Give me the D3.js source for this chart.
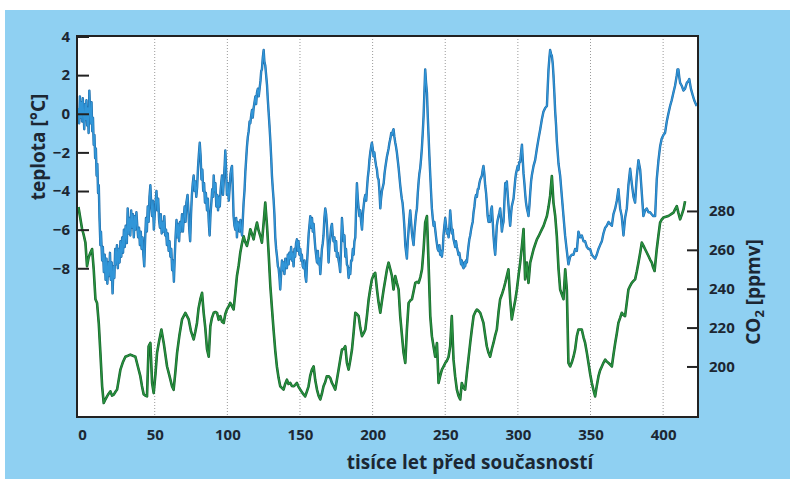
<!DOCTYPE html>
<html>
<head>
<meta charset="utf-8">
<title>Vostok teplota a CO2</title>
<script src="https://d3js.org/d3.v7.min.js"></script>
<style>
  body { margin: 0; background: #fff; }
  text { font-family: "Open Sans", "DejaVu Sans", sans-serif; fill: #1c2733; }
</style>
</head>
<body>
<div id="chart"></div>
<script>
// data: [thousand years before present, value]
var tempTicks = [-8, -6, -4, -2, 0, 2, 4];
var co2Ticks = [200, 220, 240, 260, 280];
var ageTicks = [0, 50, 100, 150, 200, 250, 300, 350, 400];

// temperature anomaly [°C]
var tempRecord = [
  [-2.5,0.3],[-2,-0.5],[-1.5,0.9],[-1,-0.2],[-0.5,0.6],[0,-0.4],[0.5,0.8],[1,0],[1.5,-0.8],[2,0.5],[2.5,-0.3],[3,0.7],[3.5,-0.6],[4,0.3],[4.5,-1],[5,1.2],[5.5,0.2],[6,-0.5],[6.5,0.6],[7,-0.9],[7.5,-0.2],[8,-1.6],[8.5,-1.1],[9,-2.3],[9.5,-1.8],[10,-3.2],[10.5,-2.6],[11,-4.1],[11.5,-3.7],[12,-5.4],
  [12.6,-6.8],[13,-6.1],[13.8,-7.6],[14.3,-6.9],[15,-8.2],[15.6,-7.3],[16.2,-8.6],[16.8,-7.5],[17.4,-8.8],[18,-7.7],[18.6,-8.4],[19.2,-7.2],[19.8,-8.6],[20.4,-7.7],[21,-9.3],[21.6,-7.9],[22.2,-8.5],[22.8,-7],[23.4,-7.8],[24,-6.8],[24.6,-8],[25.2,-7],[25.8,-7.7],[26.4,-6.6],[27,-7.4],[27.6,-6.4],[28.2,-7.2],[28.8,-6],[29.4,-6.9],[30,-5.8],
  [30.8,-6.7],[31.4,-4.9],[32,-6.2],[32.6,-5.4],[33.2,-6.3],[33.8,-5],[34.4,-5.9],[35,-5.2],[35.6,-6.4],[36.2,-5.3],[36.8,-6],[37.4,-5.1],[38,-5.8],[38.6,-6.4],[39.2,-5.9],[39.8,-6.8],[40.4,-6.1],[41,-7],[41.6,-6.4],[42.2,-7.3],[42.8,-7.9],[43.4,-6.5],[44,-5.4],[44.6,-6.1],[45.2,-4.8],[45.8,-5.6],[46.4,-4.3],[47,-3.7],[47.6,-4.7],[48.2,-5.3],
  [48.8,-4.5],[49.4,-6],[50,-5.2],[50.6,-4.6],[51.2,-4],[51.8,-5],[52.4,-4.4],[53,-5.5],[53.6,-5.9],[54.2,-5.2],[54.8,-6.2],[55.4,-5.6],[56,-6.1],[56.6,-5.3],[57.2,-6.3],[57.8,-6],[58.4,-6.8],[59,-6.2],[59.6,-7.1],[60.2,-6.6],[60.8,-7.4],[61.4,-7],[62,-8.1],[62.6,-7.6],[63.2,-8.7],[63.8,-7.4],[64.4,-6.3],[65,-5.5],[65.6,-6.4],[66.2,-5.7],
  [66.8,-6.6],[67.4,-5.6],[68,-6.1],[68.8,-5.2],[69.4,-6.1],[70,-5.4],[70.6,-4.8],[71.2,-5.6],[71.8,-4.6],[72.6,-4.2],[73.2,-5],[73.8,-6],[74.4,-6.6],[75,-5.2],[75.6,-4.2],[76.2,-3.6],[76.8,-3.2],[77.4,-4],[78,-3.5],[78.6,-4.3],[79.2,-3.8],[79.8,-2.8],[80.4,-2.1],[81,-1.5],[81.6,-2.2],[82.2,-3.4],[82.8,-2.9],[83.4,-4],[84,-3.6],[84.6,-4.6],
  [85.2,-4.1],[86,-5],[86.6,-4.4],[87.2,-5.6],[87.8,-6.3],[88.4,-5.2],[89,-4.6],[89.6,-3.9],[90.2,-4.3],[90.6,-3.2],[91.2,-4],[91.8,-3.6],[92.4,-4.8],[93,-4.2],[93.6,-5],[94.2,-4.3],[94.8,-4.8],[95.4,-3.9],[96.3,-3.2],[97,-4.2],[97.6,-3.4],[98.2,-2.6],[98.6,-1.9],[99.2,-3],[99.7,-4.2],[100.3,-3.6],[101,-4.5],[101.6,-3.8],[102.2,-3.1],[102.8,-2.8],
  [103.2,-2.7],[103.8,-4],[104.3,-5.3],[104.9,-5.8],[105.5,-6],[106.1,-5.4],[106.6,-6.4],[107.2,-5.6],[107.8,-5.7],[108.4,-6.1],[109,-5.5],[109.6,-6],[110.1,-6.3],[110.7,-5.4],[111.2,-4.6],[111.8,-4],[112.4,-3],[113,-2.3],[113.5,-1.7],[114.1,-1.2],[114.7,-0.9],[115.3,-0.4],[115.8,-0.5],[116.4,-0.1],[117,0.2],[117.5,-0.2],[118.1,0.3],[118.7,0.6],[119.3,0.9],[119.8,0.5],
  [120.4,1.1],[121,1.3],[121.6,0.9],[122.2,1.3],[122.8,1.7],[123.3,2.2],[123.8,2.3],[124.4,2.9],[125,3.3],[125.5,2.7],[126.1,2.5],[126.7,2],[127.3,1.5],[127.8,0.8],[128.4,0.1],[129,-0.6],[129.6,-1.4],[130.2,-2.3],[130.7,-3.2],[131.3,-3.9],[131.8,-4.4],[132.4,-5.2],[133,-6.4],[133.6,-7],[134.2,-7.4],[134.8,-7.9],[135.3,-8],[135.9,-8.5],[136.4,-9.1],[137,-8.3],
  [137.6,-7.6],[138.2,-8.1],[138.7,-7.7],[139.3,-8.3],[139.9,-7.5],[140.4,-7.9],[141,-8],[141.6,-7.3],[142.2,-7.8],[142.7,-7.2],[143.3,-7.5],[143.9,-6.9],[144.5,-7.6],[145,-7.2],[145.6,-7.9],[146.2,-7],[146.7,-7.4],[147.3,-6.7],[147.9,-6.5],[148.5,-7.1],[149,-6.6],[149.6,-7.3],[150.2,-7],[150.8,-7.6],[151.3,-7.3],[151.9,-7.9],[152.5,-8],[153.1,-7.6],[153.7,-8.4],[154.3,-8.7],
  [154.8,-7.8],[155.4,-7],[156,-6.2],[156.5,-5.8],[157.1,-5.3],[157.7,-5.9],[158.3,-5.4],[158.8,-6.1],[159.4,-5.7],[160,-6.4],[160.5,-6.9],[161.1,-7.3],[161.7,-7.7],[162.3,-7.1],[162.8,-7.8],[163.4,-7.5],[164,-8.3],[164.6,-7.6],[165.1,-7],[165.7,-6.7],[166.2,-6.3],[166.8,-5.4],[167.4,-4.9],[168,-5.2],[168.5,-5.7],[169.1,-6.6],[169.7,-7.7],[170.3,-6.8],[170.9,-6.4],[171.4,-5.9],
  [172,-5.7],[172.6,-6.3],[173.1,-6.6],[173.7,-6.4],[174.3,-7.1],[174.9,-6.6],[175.4,-7.4],[176,-7.2],[176.6,-7.6],[177.1,-7.8],[177.7,-8.2],[178.3,-6.9],[178.9,-5.4],[179.4,-6],[180,-6.6],[180.6,-6.3],[181.2,-7.4],[181.7,-7],[182.3,-7.8],[182.9,-7.9],[183.5,-8.5],[184.1,-8],[184.6,-8.3],[185.2,-7.6],[185.8,-7.6],[186.4,-7],[186.9,-7.3],[187.5,-6.6],[188.1,-6.4],[188.6,-5],
  [189.2,-3.6],[189.8,-4.4],[190.4,-4.9],[190.9,-5.3],[191.5,-5],[192.1,-5.6],[192.7,-6],[193.3,-5.2],[193.8,-4.8],[194.4,-4.4],[195,-4.2],[195.6,-4.5],[196.1,-3.9],[196.7,-3.3],[197.3,-2.9],[197.8,-2.4],[198.4,-2],[199,-1.7],[199.5,-1.5],[200.1,-1.8],[200.7,-2.2],[201.2,-2],[201.8,-2.4],[202.4,-2.7],[203,-2.9],[203.5,-3.3],[204.1,-3.4],[204.7,-4],[205.3,-4.9],[205.8,-4.4],
  [206.4,-4],[207,-3.8],[207.6,-3.6],[208.2,-3.1],[208.7,-2.8],[209.3,-2.5],[209.9,-2.2],[210.5,-2],[211,-1.8],[211.6,-1.5],[212.2,-1.3],[212.8,-1],[213.3,-1.1],[213.9,-0.9],[214.4,-0.8],[215,-1.2],[215.6,-1.5],[216.1,-1.7],[216.7,-2],[217.3,-2.4],[217.9,-2.8],[218.4,-3.2],[219,-3.7],[219.6,-4.1],[220.1,-4.4],[220.6,-4.6],[221.3,-5.2],[222,-6],[222.5,-6.8],[223.1,-7.2],
  [223.6,-7.5],[224.2,-6.6],[224.8,-6],[225.3,-5.5],[225.9,-5],[226.5,-5.6],[227.1,-6.2],[227.6,-6.5],[228.2,-6.8],[228.8,-6.1],[229.4,-5.6],[229.9,-5.2],[230.5,-4.9],[231.1,-4.1],[231.7,-3.5],[232.2,-3.1],[232.8,-2.8],[233.4,-2.3],[233.9,-1.8],[234.5,-1],[235.1,-0.1],[235.6,1],[236.2,2.3],[236.8,1.6],[237.4,1.1],[237.9,0],[238.5,-1.1],[239.1,-2.2],[239.7,-3.2],[240.2,-4],
  [240.8,-4.9],[241.4,-5.4],[242,-5.8],[242.5,-5.6],[243.1,-6],[243.7,-6.4],[244.2,-6.7],[244.8,-7],[245.4,-7.1],[246,-6.8],[246.5,-7.3],[247.1,-7.1],[247.7,-7.4],[248.3,-7],[248.8,-6.3],[249.4,-5.8],[250,-5.4],[250.6,-5.8],[251.1,-6.2],[251.7,-6],[252.3,-6.4],[252.8,-6],[253.4,-5],[254,-5.6],[254.6,-6.2],[255.1,-6],[255.7,-6.5],[256.3,-6.7],[256.9,-6.9],[257.4,-6.6],
  [258,-6.9],[258.6,-7.1],[259.1,-7.3],[259.7,-7.2],[260.3,-7.5],[260.9,-7.8],[261.4,-7.6],[262,-7.9],[262.6,-8],[263.2,-7.7],[263.7,-7.9],[264.3,-7.6],[264.9,-7.7],[265.5,-7.2],[266.1,-6.8],[266.6,-6.5],[267.2,-6.3],[267.8,-6],[268.3,-5.8],[268.9,-5.6],[269.5,-5.1],[270.1,-4.8],[270.6,-4.4],[271.2,-4.2],[271.8,-4.3],[272.4,-3.9],[272.9,-3.9],[273.5,-3.6],[274.1,-3.4],[274.7,-3.3],
  [275.2,-3.2],[275.8,-2.9],[276.3,-2.7],[276.9,-3.1],[277.5,-3.7],[278.1,-4.1],[278.6,-4.6],[279.2,-5.3],[279.8,-5.6],[280.4,-5.3],[280.9,-5.6],[281.5,-5],[282.1,-4.8],[282.7,-5.6],[283.2,-6.3],[283.8,-6.9],[284.4,-7.3],[285,-6.5],[285.5,-5.8],[286.1,-5.5],[286.7,-5.3],[287.3,-5.1],[287.8,-4.9],[288.4,-5.4],[289,-6.1],[289.5,-5.8],[290.1,-5.6],[290.7,-4.6],[291.3,-3.6],[291.8,-3.8],
  [292.4,-3.5],[293,-4.2],[293.6,-4.8],[294.1,-5.3],[294.7,-5.8],[295.3,-5.2],[295.8,-4.8],[296.4,-4.6],[297,-4.4],[297.6,-3.9],[298.2,-3.4],[298.7,-3.1],[299.3,-2.9],[299.9,-2.7],[300.4,-2.9],[301,-2.5],[301.6,-2.5],[302.2,-2],[302.8,-1.6],[303.3,-2.3],[303.9,-3.1],[304.5,-3.6],[305.1,-4.2],[305.6,-4.6],[306.2,-4.9],[306.8,-5.1],[307.3,-5.3],[307.9,-4.8],[308.5,-4.1],[309.1,-3.5],
  [309.6,-3.2],[310.8,-2.7],[311.9,-2.4],[313.1,-1.8],[314.2,-1.3],[315.4,-0.8],[316.5,-0.3],[317.6,0.1],[318.8,0.3],[320,0.4],[320.5,1.3],[321.1,2.3],[321.7,2.9],[322.2,3.3],[322.8,3.1],[323.4,3],[324,2.6],[324.5,2],[325.1,1.1],[325.7,0.1],[326.3,-0.6],[326.8,-1.4],[327.4,-2],[328,-2.6],[329.1,-3.2],[330.3,-4.3],[331.4,-5.3],[332.5,-6.3],[333.7,-7.1],[334.8,-7.8],
  [336,-7.4],[337.1,-7.3],[338.3,-7.3],[339.4,-7],[340.6,-7.1],[341.7,-6.1],[342.9,-6.4],[344,-6.3],[345.2,-6.6],[346.3,-6.6],[347.5,-6.9],[348.6,-7],[349.7,-7],[350.9,-7.3],[352,-7.4],[353.2,-7.5],[354.3,-7.3],[355.5,-7],[356.6,-6.8],[357.8,-6.6],[358.9,-6.2],[360.1,-5.9],[361.2,-5.8],[362.4,-5.6],[363.5,-5.7],[364.7,-5.8],[365.8,-5.2],[367,-4.9],[368.1,-4.5],[369.2,-3.9],
  [370.4,-4.9],[371.5,-5.3],[372.7,-6.3],[373.8,-5.4],[375,-4.9],[376.1,-3.7],[377.3,-2.85],[378.4,-3.6],[379.6,-4.3],[380.7,-4.6],[381.8,-3.3],[383,-2.4],[384.2,-2.9],[385.3,-4.1],[386.4,-5.3],[387.6,-5],[388.7,-4.9],[389.9,-5.1],[391,-5.1],[392.1,-5.2],[393.3,-5.3],[394.5,-5.3],[395.6,-3.4],[396.8,-2.4],[397.9,-1.7],[399,-1.3],[400.2,-1.1],[401.3,-1],[402.5,-0.4],[403.6,0],
  [404.8,0.4],[405.9,0.7],[407.1,1.1],[408.2,1.45],[409.4,2],[409.9,2.3],[410.5,2.3],[411.1,1.9],[411.7,1.6],[412.8,1.45],[414,1.2],[415.1,1.3],[416.3,1.6],[417.4,1.7],[418,1.8],[419.1,1.3],[420.2,1],[421.4,0.7],[422.5,0.5],[423.1,0.4]
];

// CO2 [ppmv]
var co2Record = [
  [-2.5,282],[0,270.7],[1,268],[2.3,263.7],[3.4,251.6],[4.5,256],[5.7,258.5],[6.9,260.4],[8,250],[9.2,234.6],[10.3,232.7],[11.5,222],[12.6,207],[13.8,189.8],[14.9,181.2],[16,183],[17.2,184.6],[18.3,186],[19.5,187.2],[20.6,185],[21.8,185.5],[23,187],[24.1,188.1],[25.2,193],[26.4,198.4],[28,202],[29.8,205],[31.5,205.5],[33.2,206.1],[35,205.5],
  [36.7,205],[38.4,200],[40.1,195],[41.2,190],[42.4,185.7],[43.5,185],[44.7,184.6],[45.8,210.4],[47,212.1],[48.2,191.5],[49.3,186.3],[50.5,196],[51.6,207],[53,213],[54.6,219],[56.2,212.1],[58.5,200],[60.2,195],[61.9,189.8],[63,188],[64.2,197],[65.4,207],[67,216],[68.8,224.2],[71.1,227.6],[73.4,224.2],[75,218],[76.8,213.9],[78,218],[79.1,222.4],
  [80.2,230],[81.4,234.6],[82.6,237.9],[83.7,227.6],[84.8,220],[86,208.9],[87.2,205],[88.3,220.7],[89.4,225],[90.6,227.6],[91.8,228],[92.9,227.6],[94,224],[95.2,225.9],[96.3,223],[97.5,222.4],[98.6,227],[99.7,229.3],[101,231],[102,232.7],[103.2,231],[104.3,229.3],[105.5,238],[106.6,246.5],[107.8,252],[108.9,258.5],[110,263],[111.2,267],[112.3,264],[113.5,262],
  [114.7,266],[115.8,270.6],[117,268],[118.1,265.4],[119.2,270],[120.4,274],[121.5,270],[122.7,267.1],[123.8,263.7],[125,274],[126.1,284.3],[127.3,272.3],[128.4,258.5],[129.6,241.3],[130.7,230],[131.8,219],[133,208],[134.1,200],[135.3,194],[136.4,189.8],[137.5,189],[138.7,188.1],[139.8,191],[141,193.2],[142.1,191],[143.3,191.5],[144.4,190],[145.6,189.8],[146.7,190.5],[147.9,191.5],
  [149,189.5],[150.2,188.1],[152,186],[153.6,184.6],[154.7,187],[155.9,189.8],[157,195],[158.2,198.4],[159.4,200],[160.5,193],[161.7,188.1],[162.8,185],[164,183],[165.1,186],[166.2,189.8],[167.4,192],[168.5,195],[169.7,195],[170.9,194],[172,191.5],[173.1,190],[174.3,188.1],[175.4,193],[176.6,198.4],[177.8,204],[178.9,208.7],[180,209],[181.2,210.4],[182.3,201.8],[183.5,198.4],
  [184.6,203],[185.8,208.7],[187,218],[188.1,227.6],[189.2,227],[190.4,225.9],[191.5,220],[192.7,215.6],[193.8,217],[195,219],[196.1,226],[197.3,234.6],[198.4,240],[199.5,244.8],[200.7,247],[201.8,248.2],[203,239.6],[204.1,233],[205.3,227.6],[206.5,234],[207.6,239.6],[208.8,245],[209.9,250],[211,253.4],[212.2,250],[213.3,246.5],[214.4,239.6],[215.6,246.5],[216.7,243],[217.9,239.6],
  [219,225.9],[220.2,216],[221.3,207],[222.5,201.8],[223.6,219],[224.8,232.7],[226,234],[227.1,234.6],[228.3,239],[229.4,243],[230.6,243.5],[231.7,243],[232.9,246],[234,250],[235.1,260.3],[236.2,274],[237.4,277.4],[238.5,253.4],[239.7,225.9],[240.8,215.6],[242,210],[243.1,205],[244.3,212.1],[245.4,191.5],[246.5,195],[247.7,198.4],[248.9,200],[250,201.8],[251.2,203],[252.3,205],
  [253.4,210.4],[254.5,225.9],[255.7,203.5],[256.8,195],[258,188.1],[259.1,185],[260.3,183],[261.4,191.5],[262.6,189],[263.7,188.1],[264.9,196.7],[266,204],[267.2,212.1],[268.3,219],[269.5,225.9],[270.7,228],[271.8,229.3],[273,228.5],[274.1,227.6],[275.2,225],[276.3,222.4],[277.5,216],[278.6,210.4],[279.8,207],[280.9,205],[282.1,209],[283.2,212.1],[284.4,216],[285.5,219],[286.7,228],
  [287.8,234.6],[289,237],[290.1,239.6],[291.3,243],[292.4,246.5],[293.5,250],[294.7,234.6],[295.8,224.2],[297,229.3],[298.2,234],[299.3,239.6],[300.5,247],[301.6,253.4],[302.8,262],[303.9,270.7],[305,244.8],[306.2,253.4],[307.3,243],[308.5,253.4],[309.7,257],[310.8,260.3],[312,263],[313.1,265.4],[314.3,267],[315.4,268.8],[316.5,270.5],[317.7,272.3],[318.9,275],[320,277.4],[321.1,282],
  [322.2,287.7],[323.4,298],[324.5,284.3],[325.7,277.4],[326.8,267.1],[328,250],[329.1,239.6],[330.3,237],[331.4,234.6],[332.6,250],[333.7,239.6],[334.8,201.8],[336,200],[337.1,202],[338.3,205],[339.4,208.7],[340.6,215.6],[341.7,219],[343,219],[344,219],[345.2,215],[346.3,212.1],[347.5,207],[348.6,201.8],[349.8,196],[350.9,191.5],[352,188],[353.2,184.6],[354.3,190],[355.5,195],
  [356.6,198],[357.8,200],[359,202],[360.1,203.5],[361.2,202.5],[362.4,201.8],[363.5,201],[364.7,200],[365.8,206],[367,212.1],[368.1,217],[369.2,222.4],[370.4,225],[371.5,227.6],[372.6,226.5],[373.8,225.9],[375,233],[376.1,239.6],[377.3,241.5],[378.4,243],[379.6,244],[380.7,244.8],[381.9,249],[383,253.4],[384.2,258.5],[385.3,263.7],[386.5,262],[387.6,260.3],[388.8,258.5],[389.9,256.8],
  [391,255],[392.2,253.4],[393.1,251],[394.1,249.1],[395.6,260.3],[396.7,267],[397.9,274],[399,275.5],[400.2,276.6],[401.9,277],[403.6,277.4],[405.3,278.2],[407.1,279.1],[408.2,280.8],[409.4,282.5],[410.5,279],[411.7,275.7],[412.8,278],[414,280.8],[415.1,285]
];

var W = 790, H = 479;
var plotL = 77, plotR = 698, plotT = 36, plotB = 417;

var svg = d3.select("#chart").append("svg")
    .attr("width", W)
    .attr("height", H);

// page: light blue card
svg.append("rect")
    .attr("x", 5).attr("y", 10)
    .attr("width", W - 5).attr("height", H - 10)
    .attr("fill", "#8fd0f2");

svg.append("rect")
    .attr("x", plotL).attr("y", plotT)
    .attr("width", plotR - plotL).attr("height", plotB - plotT)
    .attr("fill", "#fff");

var x = d3.scaleLinear().domain([-3.5, 424]).range([plotL, plotR]);
var yT = d3.scaleLinear().domain([-15.7, 4]).range([plotB, plotT + 0.5]);
var yC = d3.scaleLinear().domain([174, 370]).range([plotB, plotT]);

// dotted vertical grid
svg.append("g")
    .selectAll("line")
    .data(ageTicks.filter(function(d) { return d > 0; }))
    .enter()
    .append("line")
    .attr("x1", function(d) { return x(d); })
    .attr("x2", function(d) { return x(d); })
    .attr("y1", plotT)
    .attr("y2", plotB)
    .attr("stroke", "#9a9a9a")
    .attr("stroke-width", 1)
    .attr("stroke-dasharray", "1,2");

svg.append("clipPath").attr("id", "plot-clip")
    .append("rect")
    .attr("x", plotL).attr("y", plotT)
    .attr("width", plotR - plotL).attr("height", plotB - plotT);

var plot = svg.append("g").attr("clip-path", "url(#plot-clip)");

var tempLine = d3.line()
    .x(function(d) { return x(d[0]); })
    .y(function(d) { return yT(d[1]); });
var co2Line = d3.line()
    .x(function(d) { return x(d[0]); })
    .y(function(d) { return yC(d[1]); });

// green CO2 line, dark core under a lighter stroke
plot.append("path")
    .datum(co2Record)
    .attr("d", co2Line)
    .attr("fill", "none")
    .attr("stroke", "#17602a")
    .attr("stroke-width", 2.6)
    .attr("stroke-linejoin", "round");
plot.append("path")
    .datum(co2Record)
    .attr("d", co2Line)
    .attr("fill", "none")
    .attr("stroke", "#27913f")
    .attr("stroke-width", 1.4)
    .attr("stroke-linejoin", "round");

// blue temperature line
plot.append("path")
    .datum(tempRecord)
    .attr("d", tempLine)
    .attr("fill", "none")
    .attr("stroke", "#1f6aa6")
    .attr("stroke-width", 2.4)
    .attr("stroke-linejoin", "round");
plot.append("path")
    .datum(tempRecord)
    .attr("d", tempLine)
    .attr("fill", "none")
    .attr("stroke", "#3196d8")
    .attr("stroke-width", 1.3)
    .attr("stroke-linejoin", "round");

// frame
svg.append("rect")
    .attr("x", plotL).attr("y", plotT)
    .attr("width", plotR - plotL).attr("height", plotB - plotT)
    .attr("fill", "none")
    .attr("stroke", "#222")
    .attr("stroke-width", 2);

// axes
var axT = svg.append("g")
    .attr("transform", "translate(" + plotL + ",0)")
    .call(d3.axisLeft(yT).tickValues(tempTicks).tickSize(-12).tickPadding(7)
        .tickFormat(function(d) { return d < 0 ? "\u2212" + Math.abs(d) : d; }));
var axC = svg.append("g")
    .attr("transform", "translate(" + plotR + ",0)")
    .call(d3.axisRight(yC).tickValues(co2Ticks).tickSize(-11).tickPadding(11));
var axX = svg.append("g")
    .attr("transform", "translate(0," + plotB + ")")
    .call(d3.axisBottom(x).tickValues(ageTicks).tickSize(0).tickPadding(12));

[axT, axC, axX].forEach(function(a) {
    a.select(".domain").remove();
    a.selectAll(".tick line").attr("stroke", "#222").attr("stroke-width", 2);
    a.selectAll(".tick text")
        .style("font-family", "'Open Sans', 'DejaVu Sans', sans-serif")
        .style("font-size", "15px")
        .style("font-weight", "bold")
        .attr("fill", "#1c2733");
});

// axis titles
svg.append("text")
    .attr("transform", "translate(45,147) rotate(-90)")
    .attr("text-anchor", "middle")
    .style("font-size", "19px")
    .style("font-weight", "bold")
    .text("teplota [°C]");

var co2Title = svg.append("text")
    .attr("transform", "translate(760,292) rotate(-90)")
    .attr("text-anchor", "middle")
    .style("font-size", "19px")
    .style("font-weight", "bold");
co2Title.append("tspan").text("CO");
co2Title.append("tspan").attr("dy", 4).style("font-size", "13px").text("2");
co2Title.append("tspan").attr("dy", -4).text(" [ppmv]");

svg.append("text")
    .attr("x", 470).attr("y", 469)
    .attr("text-anchor", "middle")
    .style("font-size", "19px")
    .style("font-weight", "bold")
    .text("tisíce let před současností");
</script>
</body>
</html>
